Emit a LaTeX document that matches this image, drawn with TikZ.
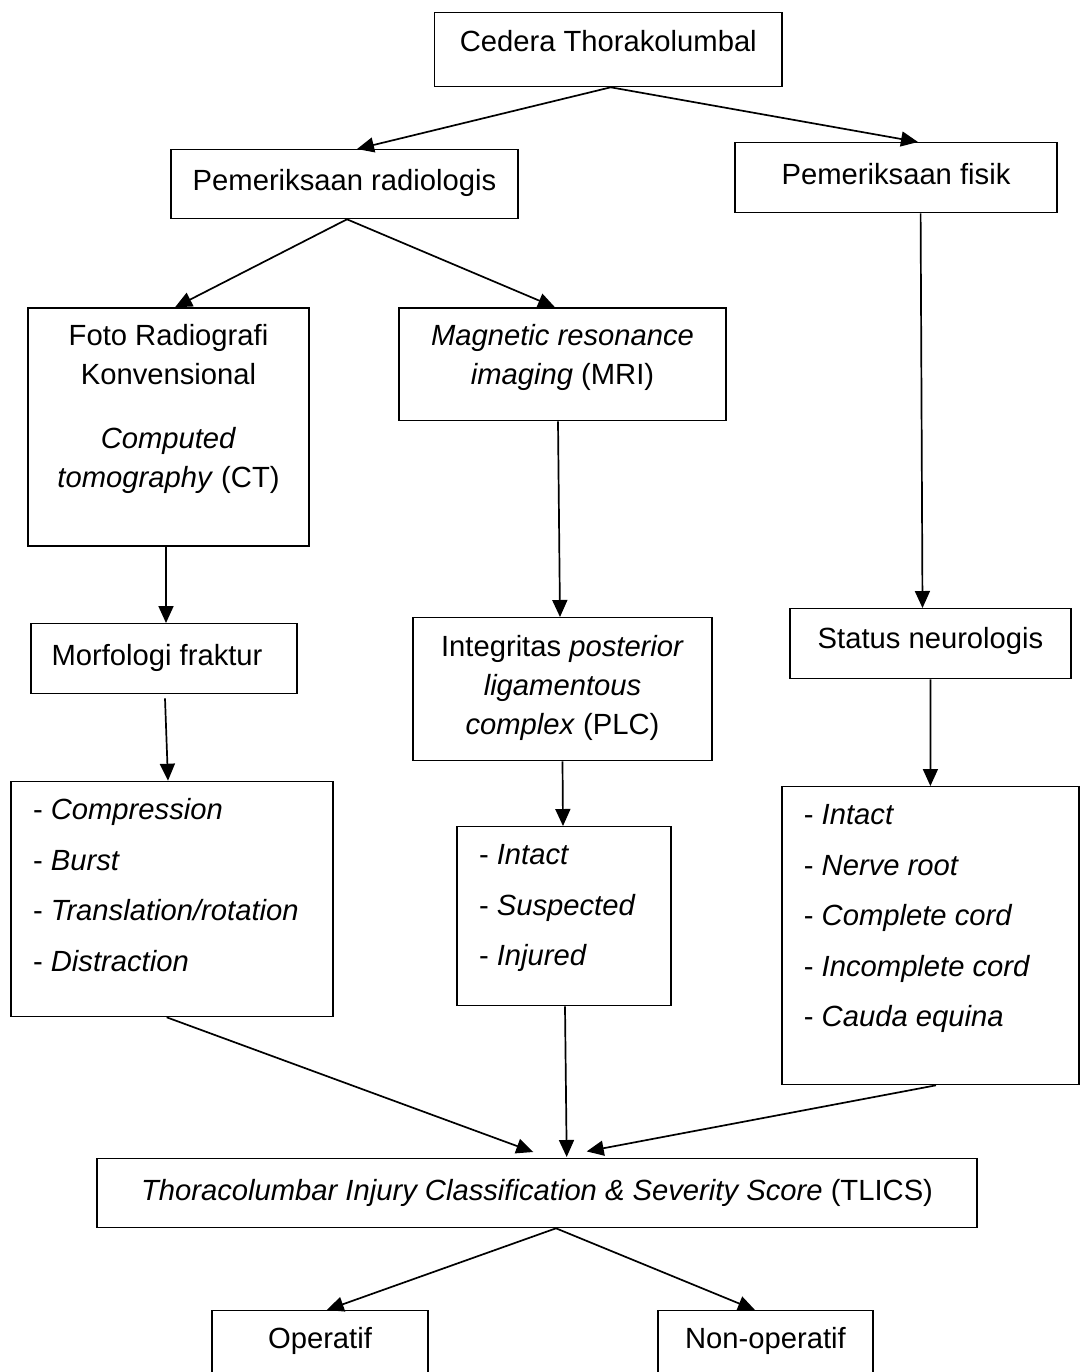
\documentclass[tikz,border=0pt]{standalone}
\usepackage{fontspec}
\setmainfont{Liberation Sans}
\usetikzlibrary{positioning,arrows.meta}

\begin{document}
\begin{tikzpicture}[
    x=0.5pt, y=-0.5pt,
    every node/.style={font=\fontsize{14.6}{19.5}\selectfont},
    box/.style={rectangle, draw, line width=0.65pt, inner sep=0pt, anchor=north, align=flush center},
    listbox/.style={rectangle, draw, line width=0.65pt, inner ysep=0pt, inner xsep=11pt, anchor=north, align=flush left, font=\fontsize{14.6}{25.25}\selectfont},
    arr/.style={-{Triangle[length=8.5pt,width=7.5pt]}, line width=0.85pt},
]
\useasboundingbox (0,0) rectangle (1080,1372);

% Top
\node[box, minimum width=173.6pt, text height=19.2pt, text depth=17.8pt] (cedera) at (608.3,12) {Cedera Thorakolumbal};

% Pemeriksaan
\node[box, minimum width=173.5pt, text height=20.25pt, text depth=14.25pt] (radiol) at (344.5,149) {Pemeriksaan radiologis};
\node[box, minimum width=161pt, text height=20.75pt, text depth=14.25pt] (fisik) at (896,142) {Pemeriksaan fisik};

% Radiologi
\node[box, text width=140.5pt, text height=18.85pt, text depth=100.15pt] (foto) at (168.5,307.3)
    {Foto Radiografi\\Konvensional\\[12.5pt]\textit{Computed}\\\textit{tomography} (CT)};
\node[box, text width=163.5pt, text height=18.85pt, text depth=37.5pt] (mri) at (562.5,307.3)
    {\textit{Magnetic resonance}\\\textit{imaging} (MRI)};

% Penilaian
\node[box, minimum width=133pt, text height=20.75pt, text depth=14.25pt] (morfo) at (164,623) {Morfologi fraktur\hspace*{7pt}};
\node[box, text width=149.5pt, text height=19.25pt, text depth=52.25pt] (plc) at (562.5,617)
    {Integritas \textit{posterior}\\\textit{ligamentous}\\\textit{complex} (PLC)};
\node[box, minimum width=140.5pt, text height=19.75pt, text depth=15.25pt] (status) at (930.5,608) {Status neurologis};

% Kategori
\node[listbox, text width=139pt, text height=19.3pt, text depth=98.35pt] (listl) at (172,780.7)
    {- \textit{Compression}\\- \textit{Burst}\\- \textit{Translation/rotation}\\- \textit{Distraction}};
\node[listbox, text width=85pt, text height=19pt, text depth=70.5pt] (listm) at (564,826)
    {- \textit{Intact}\\- \textit{Suspected}\\- \textit{Injured}};
\node[listbox, text width=126.5pt, text height=19pt, text depth=130pt] (listr) at (930.4,786)
    {- \textit{Intact}\\- \textit{Nerve root}\\- \textit{Complete cord}\\- \textit{Incomplete cord}\\- \textit{Cauda equina}};

% TLICS
\node[box, minimum width=440pt, text height=21pt, text depth=13.5pt] (tlics) at (537,1158)
    {\textit{Thoracolumbar Injury Classification \& Severity Score} (TLICS)};

% Terapi
\node[box, minimum width=108pt, text height=18.75pt, text depth=21pt] (oper) at (320,1310) {Operatif};
\node[box, minimum width=107.5pt, text height=18.75pt, text depth=21pt] (nonop) at (765.5,1310) {Non-operatif};

% Panah
\draw[arr] ([xshift=1.2pt]cedera.south) -- ([xshift=6.25pt]radiol.north);
\draw[arr] ([xshift=1.2pt]cedera.south) -- ([xshift=11pt]fisik.north);
\draw[arr] ([xshift=1.25pt]radiol.south) -- ([xshift=3.25pt]foto.north);
\draw[arr] ([xshift=1.25pt]radiol.south) -- ([xshift=-3.75pt]mri.north);
\draw[arr] ([xshift=12.3pt]fisik.south) -- ([xshift=-4pt]status.north);
\draw[arr] ([xshift=-1.25pt]foto.south) -- ([xshift=1pt]morfo.north);
\draw[arr] ([xshift=-2.25pt]mri.south) -- ([xshift=-1.25pt]plc.north);
\draw[arr] ([xshift=0.5pt,yshift=-2pt]morfo.south) -- ([xshift=-2pt]listl.north);
\draw[arr] (plc.south) -- ([xshift=-0.5pt]listm.north);
\draw[arr] (status.south) -- (listr.north);
\draw[arr] ([xshift=-2.65pt]listl.south) -- ([xshift=-1.85pt,yshift=3pt]tlics.north);
\draw[arr] ([xshift=0.5pt]listm.south) -- ([xshift=14.85pt,yshift=0.5pt]tlics.north);
\draw[arr] ([xshift=2.8pt]listr.south) -- ([xshift=24.85pt,yshift=3.3pt]tlics.north);
\draw[arr] ([xshift=9.5pt]tlics.south) -- ([xshift=3.35pt]oper.north);
\draw[arr] ([xshift=9.5pt]tlics.south) -- ([xshift=-5.25pt]nonop.north);

\end{tikzpicture}
\end{document}
